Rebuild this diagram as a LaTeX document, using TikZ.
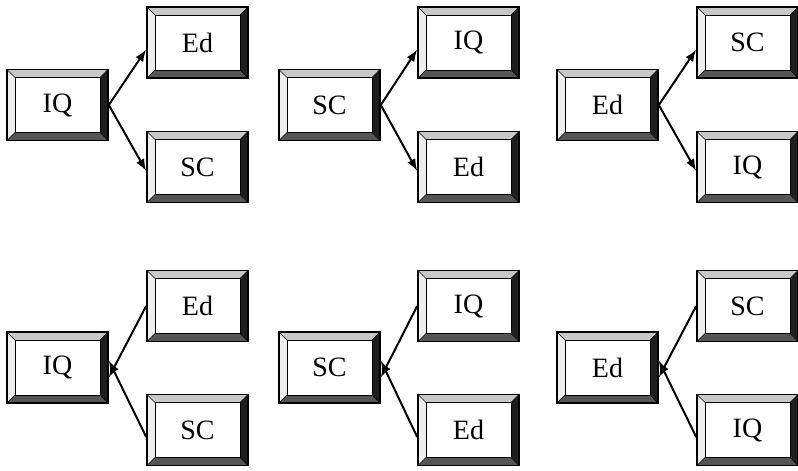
\documentclass[tikz,border=0pt]{standalone}
\usepackage{fontspec}
\setmainfont{Liberation Serif}
\usetikzlibrary{arrows.meta}
\definecolor{bvtop}{HTML}{C8C8C8}
\definecolor{bvleft}{HTML}{EEEEEE}
\definecolor{bvright}{HTML}{1E1E1E}
\definecolor{bvbot}{HTML}{555555}
\tikzset{
  bevelbox/.style={minimum width=101pt, minimum height=71pt, inner sep=0pt,
    font=\fontsize{28}{32}\selectfont,
    path picture={
      \coordinate (nw) at (path picture bounding box.north west);
      \coordinate (ne) at (path picture bounding box.north east);
      \coordinate (sw) at (path picture bounding box.south west);
      \coordinate (se) at (path picture bounding box.south east);
      \coordinate (inw) at ([shift={(8pt,-8pt)}]nw);
      \coordinate (ine) at ([shift={(-8pt,-8pt)}]ne);
      \coordinate (isw) at ([shift={(8pt,8pt)}]sw);
      \coordinate (ise) at ([shift={(-8pt,8pt)}]se);
      \fill[bvtop] (nw) -- (ne) -- (ine) -- (inw) -- cycle;
      \fill[bvleft] (nw) -- (inw) -- (isw) -- (sw) -- cycle;
      \fill[bvright] (ne) -- (se) -- (ise) -- (ine) -- cycle;
      \fill[bvbot] (sw) -- (isw) -- (ise) -- (se) -- cycle;
      \draw[line width=0.8pt] (inw) rectangle (ise);
      \draw[line width=0.5pt] (nw) -- (inw) (ne) -- (ine) (sw) -- (isw) (se) -- (ise);
    },
    draw, line width=1.6pt},
  conn/.style={line width=2pt, -{Latex[length=12pt,width=9pt]}}
}
\begin{document}
\begin{tikzpicture}[x=1pt,y=-1pt]
\useasboundingbox (0,0) rectangle (798,471);
% top row
\node[bevelbox] (a1) at (57.5,105) {IQ};
\node[bevelbox] (a2) at (197.5,42.5) {Ed};
\node[bevelbox] (a3) at (197.5,167) {SC};
\node[bevelbox] (b1) at (329.5,105) {SC};
\node[bevelbox] (b2) at (468.5,42.5) {IQ};
\node[bevelbox] (b3) at (468.5,167) {Ed};
\node[bevelbox] (c1) at (607.5,105) {Ed};
\node[bevelbox] (c2) at (747.5,42.5) {SC};
\node[bevelbox] (c3) at (747.5,167) {IQ};
\foreach \s/\t/\u in {a1/a2/a3,b1/b2/b3,c1/c2/c3}{
  \draw[conn] (\s.east) -- ([yshift=-7pt]\t.west);
  \draw[conn] (\s.east) -- ([yshift=-4pt]\u.west);
}
% bottom row
\node[bevelbox] (d1) at (57.5,367.5) {IQ};
\node[bevelbox] (d2) at (197.5,306) {Ed};
\node[bevelbox] (d3) at (197.5,430) {SC};
\node[bevelbox] (e1) at (329.5,367.5) {SC};
\node[bevelbox] (e2) at (468.5,306) {IQ};
\node[bevelbox] (e3) at (468.5,430) {Ed};
\node[bevelbox] (f1) at (607.5,367.5) {Ed};
\node[bevelbox] (f2) at (747.5,306) {SC};
\node[bevelbox] (f3) at (747.5,430) {IQ};
\foreach \s/\t/\u in {d1/d2/d3,e1/e2/e3,f1/f2/f3}{
  \draw[conn] (\t.west) -- ([yshift=-10pt]\s.east);
  \draw[conn] ([yshift=-7pt]\u.west) -- ([yshift=7pt]\s.east);
}
\end{tikzpicture}
\end{document}
